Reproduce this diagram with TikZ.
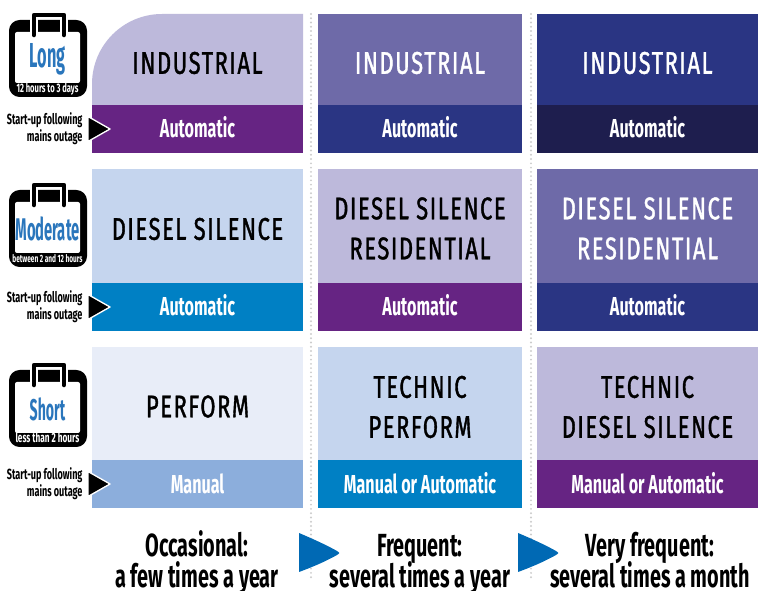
\documentclass[tikz,border=0pt]{standalone}
\usepackage{fontspec}
\setmainfont{Fira Sans}
\newfontfamily\hdfont[FakeStretch=0.7,LetterSpace=5,FakeBold=1.2]{Fira Sans}
\newfontfamily\bandfont[FakeStretch=0.62]{Fira Sans}
\newfontfamily\calfont[FakeStretch=0.47]{Fira Sans}

\definecolor{lav}{HTML}{BDB9DB}
\definecolor{iris}{HTML}{6E6AA8}
\definecolor{deepblue}{HTML}{2A3583}
\definecolor{night}{HTML}{1E1E4E}
\definecolor{grape}{HTML}{662483}
\definecolor{sky}{HTML}{C5D5EE}
\definecolor{azure}{HTML}{0080C4}
\definecolor{mist}{HTML}{E8EDF8}
\definecolor{steel}{HTML}{8CAEDC}
\definecolor{arrowblue}{HTML}{0069B4}
\definecolor{calblue}{HTML}{2A76BC}
\definecolor{sepgray}{HTML}{CCCCCC}

\tikzset{every picture/.style={line width=0.75pt}}
\tikzset{
  hdtext/.style={anchor=center, align=center, inner sep=0pt, text=black,
    font=\hdfont\fontsize{23.5}{30}\selectfont},
  bandtext/.style={anchor=base, inner sep=0pt, text=white,
    font=\bandfont\bfseries\fontsize{19.5}{20}\selectfont},
  freqtext/.style={anchor=base, inner sep=0pt, text=black,
    font=\bandfont\bfseries\fontsize{24}{24}\selectfont},
  startup/.style={anchor=east, align=right, inner sep=0pt, text=black,
    font=\bandfont\bfseries\fontsize{11}{12.75}\selectfont},
  caltext/.style={anchor=center, inner sep=0pt, text=calblue},
  calsub/.style={anchor=base, inner sep=0pt, text=white},
  sepline/.style={draw=sepgray, line width=1.6pt, line cap=round, dash pattern=on 0pt off 3.2pt},
  pointer/.style={draw=white, line width=1pt, fill=black, line join=round}
}

\begin{document}
\begin{tikzpicture}[x=0.75pt,y=0.75pt,yscale=-1,xscale=1]
\path[use as bounding box] (0,0) rectangle (758,591);

%Dotted separators
\draw[sepline] (311,14) -- (311,580);
\draw[sepline] (531,14) -- (531,580);

%Row: long
\fill[lav] (92,105) -- (92,84) .. controls (92,45.3) and (123.3,14) .. (162,14) -- (303,14) -- (303,105) -- cycle;
\fill[grape] (92,105) rectangle (303,153);
\fill[iris] (318,14) rectangle (522,105);
\fill[deepblue] (318,105) rectangle (522,153);
\fill[deepblue] (537,14) rectangle (758,105);
\fill[night] (537,105) rectangle (758,153);

%Row: moderate
\fill[sky] (92,169) rectangle (303,283);
\fill[azure] (92,283) rectangle (303,331);
\fill[lav] (318,169) rectangle (522,283);
\fill[grape] (318,283) rectangle (522,331);
\fill[iris] (537,169) rectangle (758,283);
\fill[deepblue] (537,283) rectangle (758,331);

%Row: short
\fill[mist] (92,347) rectangle (303,460);
\fill[steel] (92,460) rectangle (303,508);
\fill[sky] (318,347) rectangle (522,460);
\fill[azure] (318,460) rectangle (522,508);
\fill[lav] (537,347) rectangle (758,460);
\fill[grape] (537,460) rectangle (758,508);

% Header texts
\node[hdtext] (ind-occ) at (197.5,63) {INDUSTRIAL};
\node[hdtext, text=white] (ind-freq) at (420,63) {INDUSTRIAL};
\node[hdtext, text=white] (ind-vfreq) at (647.5,63) {INDUSTRIAL};
\node[hdtext] (ds-occ) at (197.5,229) {DIESEL SILENCE};
\node[hdtext] (dsr-freq) at (420,228.5) {DIESEL SILENCE\\RESIDENTIAL};
\node[hdtext, text=white] (dsr-vfreq) at (647.5,228.5) {DIESEL SILENCE\\RESIDENTIAL};
\node[hdtext] (pf-occ) at (197.5,406.5) {PERFORM};
\node[hdtext] (tp-freq) at (420,407) {TECHNIC\\PERFORM};
\node[hdtext] (tds-vfreq) at (647.5,407) {TECHNIC\\DIESEL SILENCE};

% Band texts
\node[bandtext] (auto-ind-occ) at (197.5,138) {Automatic};
\node[bandtext] (auto-ind-freq) at (420,138) {Automatic};
\node[bandtext] (auto-ind-vfreq) at (647.5,138) {Automatic};
\node[bandtext] (auto-ds-occ) at (197.5,316) {Automatic};
\node[bandtext] (auto-dsr-freq) at (420,316) {Automatic};
\node[bandtext] (auto-dsr-vfreq) at (647.5,316) {Automatic};
\node[bandtext] (man-pf-occ) at (197.5,494) {Manual};
\node[bandtext] (mix-tp-freq) at (420,494) {Manual or Automatic};
\node[bandtext] (mix-tds-vfreq) at (647.5,494) {Manual or Automatic};

% Calendars
\foreach \yo/\cal/\lbl/\fs/\sub/\sz in {0/long/Long/26/12 hours to 3 days/9.2,
    170/moderate/Moderate/23.5/between 2 and 12 hours/7.9,
    350/short/Short/22.5/less than 2 hours/10}
{
  \begin{scope}[shift={(0,\yo)}]
    \fill[black, rounded corners=8pt] (9,20) rectangle (87,97);
    \fill[white, rounded corners=1.5pt] (15,32) rectangle (80,83);
    \draw[white, line width=6pt, line join=round] (34,36) -- (34,15) -- (64,15) -- (64,36);
    \draw[black, line width=3.4pt, line join=round, line cap=round] (34,35) -- (34,15) -- (64,15) -- (64,35);
    \node[caltext, font=\calfont\bfseries\fontsize{\fs}{\fs}\selectfont] (\cal) at (47.5,59) {\lbl};
    \node[calsub, font=\bandfont\bfseries\fontsize{\sz}{\sz}\selectfont] (\cal-sub) at (47.5,92.5) {\sub};
  \end{scope}
}

% Start-up labels and pointers
\foreach \yc/\nm in {129/long, 307/moderate, 484/short}
{
  \node[startup] (startup-\nm) at (83,\yc) {Start-up following\\mains outage};
  \draw[pointer] (88,\yc-12.5) -- (110,\yc) -- (88,\yc+12.5) -- cycle;
}

% Frequency labels
\node[freqtext] (occ) at (197,557) {Occasional:};
\node[freqtext] (occ-rate) at (197,588) {a few times a year};
\node[freqtext] (freq) at (420,557) {Frequent:};
\node[freqtext] (freq-rate) at (420,588) {several times a year};
\node[freqtext] (vfreq) at (650,557) {Very frequent:};
\node[freqtext] (vfreq-rate) at (650,588) {several times a month};

% Blue arrows
\foreach \xo in {0,219}
{
  \fill[arrowblue, shift={(\xo,0)}] (299,533) .. controls (318,541) and (330,547) .. (337,551)
    .. controls (340,553) .. (337,555) .. controls (330,559) and (318,565) .. (299,572) -- cycle;
}

\end{tikzpicture}
\end{document}
